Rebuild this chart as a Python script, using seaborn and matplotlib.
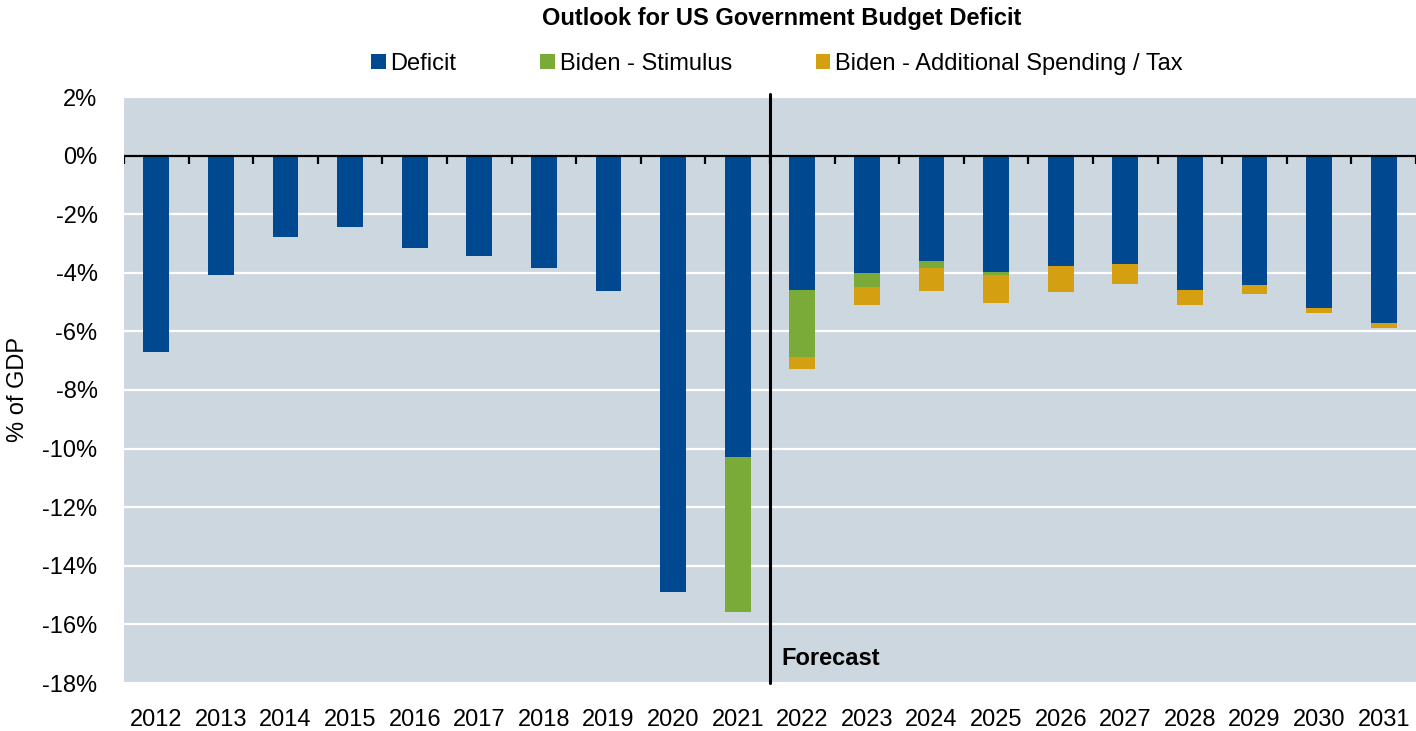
import matplotlib
matplotlib.use("Agg")
import matplotlib.pyplot as plt
import seaborn as sns
import numpy as np
import pandas as pd
from matplotlib.patches import Patch

# ---- data ----
years = [str(y) for y in range(2012, 2032)]
deficit = [-6.70, -4.09, -2.79, -2.43, -3.15, -3.44, -3.83, -4.63, -14.91, -10.29,
           -4.58, -4.00, -3.59, -3.96, -3.76, -3.69, -4.58, -4.41, -5.19, -5.71]
stimulus = [0, 0, 0, 0, 0, 0, 0, 0, 0, -5.28,
            -2.28, -0.47, -0.24, -0.10, 0, 0, 0, 0, 0, 0]
additional = [0, 0, 0, 0, 0, 0, 0, 0, 0, 0,
              -0.43, -0.62, -0.80, -0.97, -0.91, -0.70, -0.51, -0.33, -0.17, -0.16]
yticks = list(range(-18, 3, 2))
series_names = ["Deficit", "Biden - Stimulus", "Biden - Additional Spending / Tax"]
colors = ["#004990", "#7AAA38", "#D4A012"]
title = "Outlook for US Government Budget Deficit"
ylabel = "% of GDP"
forecast_label = "Forecast"
forecast_pos = 9.5  # boundary between 2021 and 2022

# ---- style ----
sns.set_style("white", {"axes.facecolor": "#CDD7E0"})
FONT = ["Liberation Sans Narrow", "Liberation Sans", "DejaVu Sans"]
plt.rcParams["font.family"] = FONT
plt.rcParams["text.color"] = "black"
FS = 17

W, H = 1416, 731
fig = plt.figure(figsize=(W / 100, H / 100), dpi=100)
ax = fig.add_axes([124 / W, 1 - 683 / H, 1 - 124 / W, (683 - 97) / H])

df = pd.DataFrame({"year": years, "deficit": deficit,
                   "stimulus": stimulus, "additional": additional})
df["lvl2"] = df["deficit"] + df["stimulus"]
df["lvl3"] = df["lvl2"] + df["additional"]

for col, c in [("lvl3", colors[2]), ("lvl2", colors[1]), ("deficit", colors[0])]:
    sns.barplot(data=df, x="year", y=col, order=years, color=c, width=0.4,
                linewidth=0, saturation=1, ax=ax, errorbar=None, zorder=2)

ax.set_ylim(-18, 2)
ax.set_xlim(-0.5, len(years) - 0.5)
ax.set_yticks(yticks)
ax.set_yticklabels([f"{t}%" for t in yticks])
ax.yaxis.grid(True, color="white", lw=1.6)
ax.xaxis.grid(False)
ax.set_axisbelow(True)
for s in ax.spines.values():
    s.set_visible(False)
ax.tick_params(axis="both", length=0, labelsize=FS, colors="black")
ax.tick_params(axis="y", pad=19)
ax.tick_params(axis="x", pad=19)
ax.set_xlabel("")
ax.set_ylabel("")

# zero line with boundary ticks
ax.axhline(0, color="black", lw=1.6, zorder=3)
ax.vlines(np.arange(len(years) + 1) - 0.5, -0.27, 0, color="black", lw=1.6, zorder=3)

# forecast divider
ax.plot([forecast_pos, forecast_pos], [-18, 2.1], color="black", lw=2.2,
        clip_on=False, zorder=4)
ax.text(forecast_pos + 0.17, -17.38, forecast_label, fontsize=FS,
        fontweight="bold", va="baseline", ha="left", color="black")

fig.text(782 / W, 1 - 18 / H, title, ha="center", va="center",
         fontsize=FS, fontweight="bold", color="black")
fig.text(18 / W, 1 - 390 / H, ylabel, rotation=90, ha="center", va="center",
         fontsize=FS, color="black")

handles = [Patch(facecolor=c, edgecolor="none") for c in colors]
fig.legend(handles, series_names, loc="center",
           bbox_to_anchor=(777 / W, 1 - 64 / H), ncol=3, frameon=False,
           fontsize=FS, handlelength=0.62, handleheight=0.62,
           handletextpad=0.2, columnspacing=3.55, borderaxespad=0, borderpad=0,
           labelcolor="black")

fig.savefig("out.png", dpi=100)
